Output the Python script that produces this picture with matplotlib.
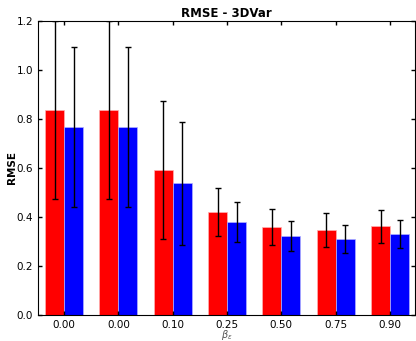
import numpy as np
import matplotlib
matplotlib.use("Agg")
import matplotlib.pyplot as plt

labels = ["0.00", "0.00", "0.10", "0.25", "0.50", "0.75", "0.90"]
rmse_red = [0.838, 0.838, 0.592, 0.421, 0.358, 0.346, 0.362]
err_red = [0.363, 0.363, 0.283, 0.098, 0.073, 0.069, 0.068]
rmse_blue = [0.767, 0.767, 0.537, 0.380, 0.322, 0.312, 0.329]
err_blue = [0.325, 0.325, 0.250, 0.082, 0.061, 0.057, 0.057]

fig = plt.figure(figsize=(4.16, 3.41), dpi=100)
ax = fig.add_axes([38 / 416, 1 - 315 / 341, 377 / 416, 294 / 341])

ind = np.arange(len(labels))
w = 0.35
ekw = dict(ecolor="black", elinewidth=1, capsize=2.5, capthick=1)
ax.bar(ind - w, rmse_red, w, align="edge", color="red", edgecolor="#ffb0b0",
       linewidth=0.5, yerr=err_red, error_kw=ekw)
ax.bar(ind, rmse_blue, w, align="edge", color="blue", edgecolor="#b0b0ff",
       linewidth=0.5, yerr=err_blue, error_kw=ekw)

ax.set_xlim(-0.48, 6.46)
ax.set_ylim(0, 1.2)
ax.set_xticks(ind)
ax.set_xticklabels(labels, fontsize=7.5)
yt = np.arange(0, 1.21, 0.2)
ax.set_yticks(yt)
ax.set_yticklabels(["%.1f" % v for v in yt], fontsize=7.5)
ax.tick_params(direction="in", top=True, right=True, length=3, width=1)
ax.set_title("RMSE - 3DVar", fontsize=8.5, fontweight="bold", pad=3)
ax.set_ylabel("RMSE", fontsize=7.5, fontweight="bold", labelpad=0)
ax.set_xlabel(r"$\beta_\epsilon$", fontsize=7, color="#555555", labelpad=-1)

fig.savefig("out.png", dpi=100)
